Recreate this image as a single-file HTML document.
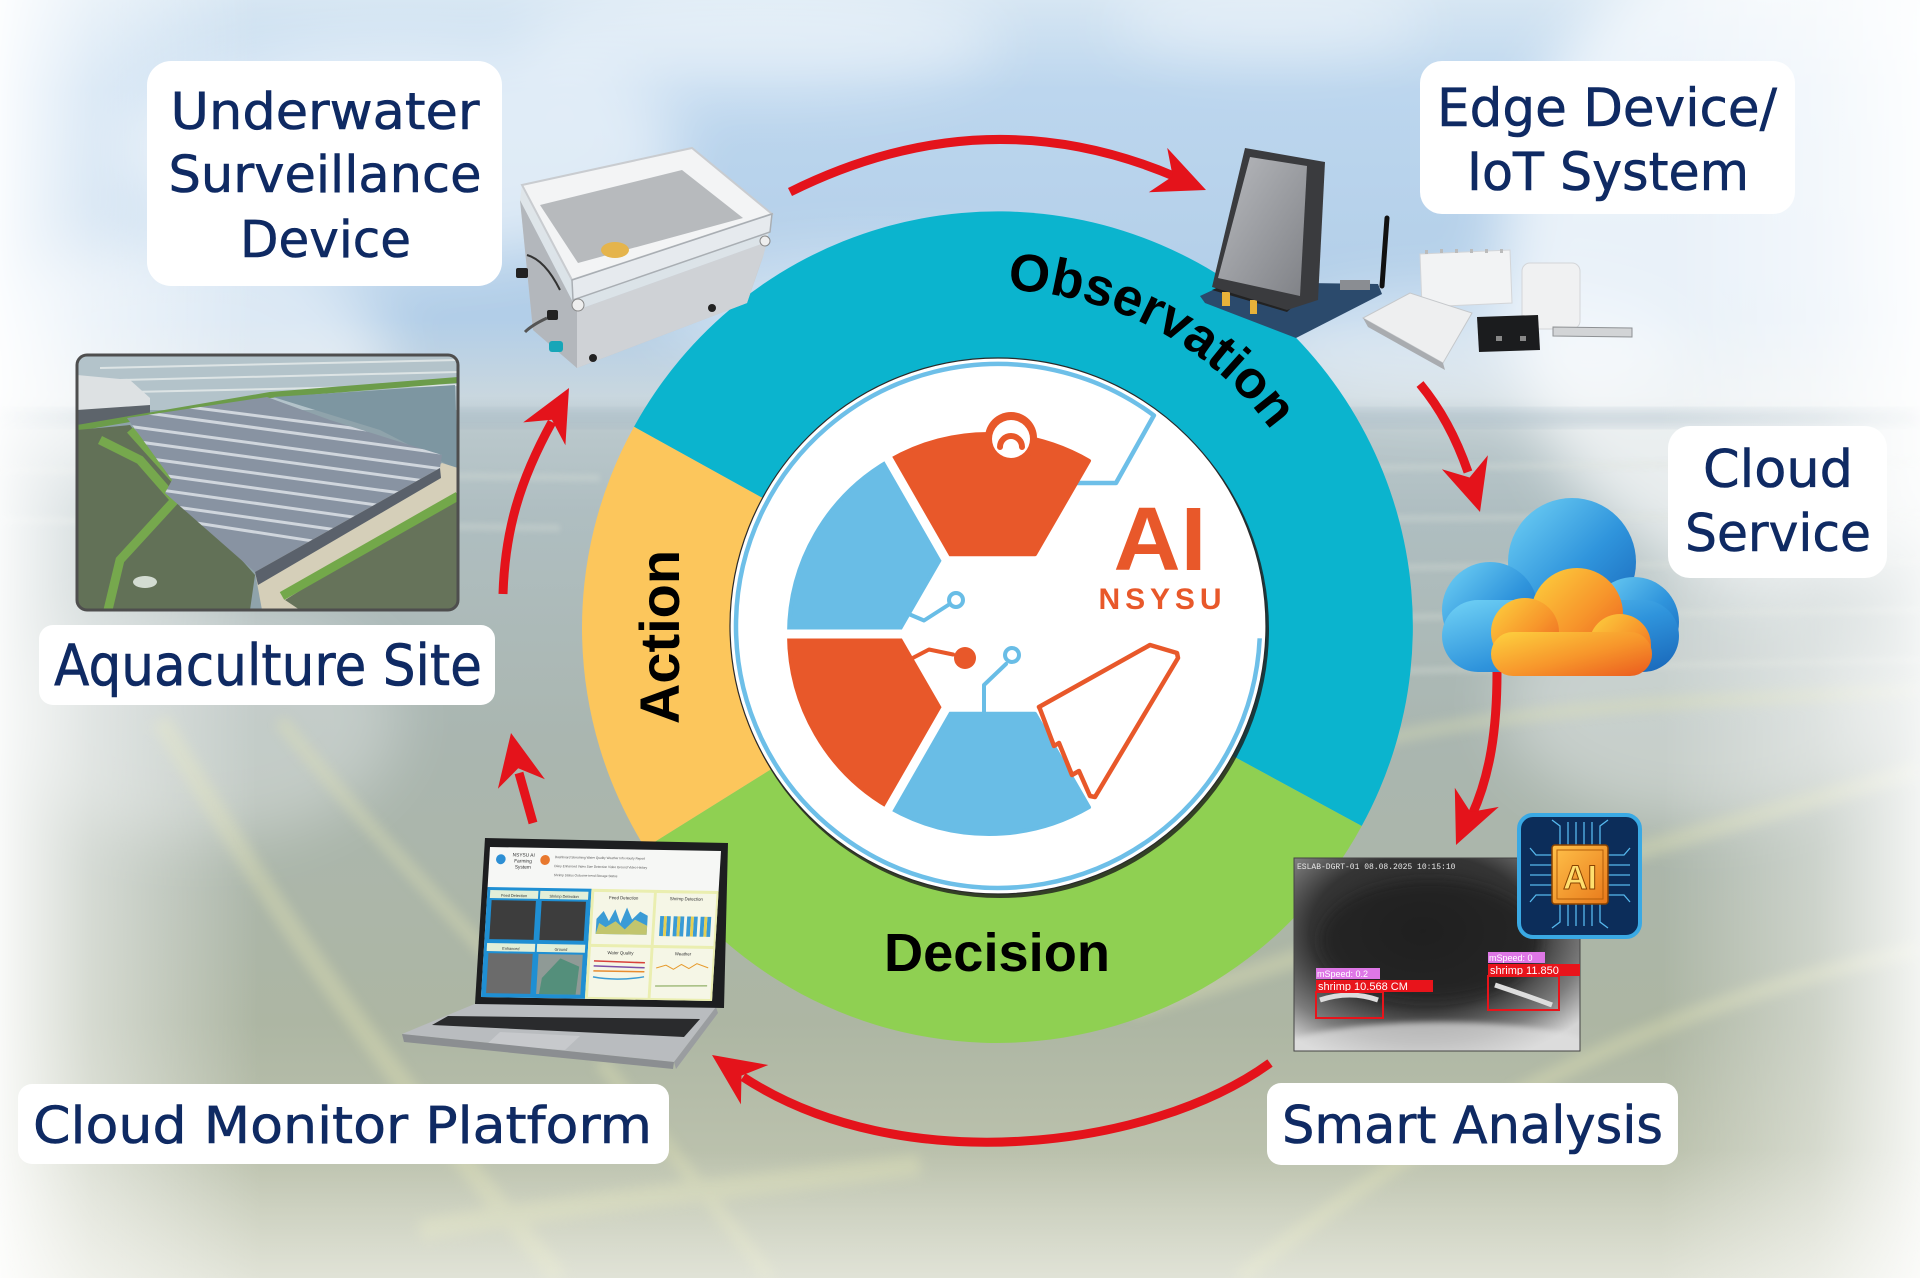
<!DOCTYPE html>
<html><head><meta charset="utf-8">
<style>
html,body{margin:0;padding:0;width:1920px;height:1278px;overflow:hidden;background:#b8c6cc}
svg{display:block}
.lbl{font-family:"DejaVu Sans","Liberation Sans",sans-serif;fill:#0f2a63;stroke:#0f2a63;stroke-width:0.6}
.big{font-family:"Liberation Sans","DejaVu Sans",sans-serif;font-weight:bold;fill:#000}
.tiny{font-family:"Liberation Sans","DejaVu Sans",sans-serif}
</style></head><body>
<svg width="1920" height="1278" viewBox="0 0 1920 1278" xmlns="http://www.w3.org/2000/svg">
<defs>
 <linearGradient id="bg" x1="0" y1="0" x2="0" y2="1">
  <stop offset="0" stop-color="#d6e6f3"/>
  <stop offset="0.07" stop-color="#bcd6ee"/>
  <stop offset="0.25" stop-color="#b2cee8"/>
  <stop offset="0.31" stop-color="#c9d7df"/>
  <stop offset="0.335" stop-color="#bac8cc"/>
  <stop offset="0.4" stop-color="#afbec1"/>
  <stop offset="0.58" stop-color="#aab6b0"/>
  <stop offset="0.8" stop-color="#adb6a3"/>
  <stop offset="1" stop-color="#c8ccb6"/>
 </linearGradient>
 <linearGradient id="fogL" x1="0" y1="0" x2="1" y2="0">
  <stop offset="0" stop-color="#ffffff" stop-opacity="0.92"/>
  <stop offset="0.35" stop-color="#ffffff" stop-opacity="0.5"/>
  <stop offset="1" stop-color="#ffffff" stop-opacity="0"/>
 </linearGradient>
 <linearGradient id="fogR" x1="1" y1="0" x2="0" y2="0">
  <stop offset="0" stop-color="#ffffff" stop-opacity="0.85"/>
  <stop offset="0.4" stop-color="#ffffff" stop-opacity="0.4"/>
  <stop offset="1" stop-color="#ffffff" stop-opacity="0"/>
 </linearGradient>
 <linearGradient id="fogB" x1="0" y1="0" x2="0" y2="1">
  <stop offset="0" stop-color="#ffffff" stop-opacity="0"/>
  <stop offset="1" stop-color="#ffffff" stop-opacity="0.45"/>
 </linearGradient>
 <filter id="b30" x="-50%" y="-50%" width="200%" height="200%"><feGaussianBlur stdDeviation="30"/></filter>
 <filter id="b6" x="-20%" y="-20%" width="140%" height="140%"><feGaussianBlur stdDeviation="6"/></filter>
 <filter id="b3" x="-20%" y="-20%" width="140%" height="140%"><feGaussianBlur stdDeviation="3"/></filter>
 <linearGradient id="cb" x1="0" y1="0" x2="1" y2="1">
  <stop offset="0" stop-color="#72d3f6"/><stop offset="0.55" stop-color="#2f94dc"/><stop offset="1" stop-color="#1865b8"/>
 </linearGradient>
 <linearGradient id="co" x1="0" y1="0" x2="1" y2="1">
  <stop offset="0" stop-color="#fdd23f"/><stop offset="0.55" stop-color="#f7952b"/><stop offset="1" stop-color="#ea5a1e"/>
 </linearGradient>
 <linearGradient id="og" x1="0" y1="0" x2="1" y2="1">
  <stop offset="0" stop-color="#ffc24a"/><stop offset="1" stop-color="#e8781a"/>
 </linearGradient>
 <radialGradient id="cam" cx="0.45" cy="0.38" r="0.72">
  <stop offset="0" stop-color="#262626"/><stop offset="0.55" stop-color="#343434"/>
  <stop offset="0.8" stop-color="#7d7d7d"/><stop offset="1" stop-color="#d5d5d5"/>
 </radialGradient>
 <linearGradient id="scr" x1="0" y1="0" x2="1" y2="1">
  <stop offset="0" stop-color="#b8babe"/><stop offset="1" stop-color="#7f8186"/>
 </linearGradient>
 <linearGradient id="body" x1="0" y1="0" x2="0" y2="1">
  <stop offset="0" stop-color="#d8dbde"/><stop offset="1" stop-color="#b9bcc0"/>
 </linearGradient>
 <clipPath id="photoClip"><rect x="77" y="355" width="381" height="255" rx="10"/></clipPath>
 <clipPath id="roofClip"><polygon points="127,418 267,397 330,420 442,455 440,468 255,572 165,493 172,480"/></clipPath>
 <clipPath id="camClip"><rect x="1294" y="858" width="286" height="193"/></clipPath>
 <path id="obsPath" d="M 1007.6 290.2 A 338 338 0 0 1 1335 628"/>
</defs>

<!-- ================= BACKGROUND ================= -->
<rect width="1920" height="1278" fill="url(#bg)"/>
<g filter="url(#b30)" fill="#ffffff">
 <ellipse cx="400" cy="150" rx="280" ry="110" opacity="0.55"/>
 <ellipse cx="170" cy="360" rx="220" ry="120" opacity="0.55"/>
 <ellipse cx="760" cy="40" rx="240" ry="55" opacity="0.45"/>
 <ellipse cx="1270" cy="20" rx="160" ry="40" opacity="0.4"/>
 <ellipse cx="1780" cy="260" rx="280" ry="330" opacity="0.7"/>
 <ellipse cx="1470" cy="350" rx="220" ry="60" opacity="0.45"/>
 <ellipse cx="880" cy="310" rx="220" ry="60" opacity="0.35"/>
 <ellipse cx="1700" cy="700" rx="200" ry="120" opacity="0.35"/>
 <ellipse cx="200" cy="720" rx="200" ry="120" opacity="0.3"/>
</g>
<!-- horizon land -->
<rect x="0" y="410" width="1920" height="16" fill="#9fb3c1" opacity="0.4" filter="url(#b6)"/>
<!-- pond streaks -->
<g stroke="#dfe4dc" stroke-width="7" opacity="0.3" fill="none" filter="url(#b3)">
 <path d="M 1150 470 L 1920 462"/>
 <path d="M 1150 520 L 1920 515"/>
 <path d="M 1170 570 L 1920 562"/>
 <path d="M 1180 620 L 1920 610"/>
 <path d="M 1200 675 L 1920 660"/>
 <path d="M 0 470 L 600 478"/>
 <path d="M 0 520 L 560 528"/>
</g>
<g stroke="#dfe1b4" fill="none" opacity="0.4" filter="url(#b6)">
 <path d="M 160 720 C 240 850 340 1020 560 1278" stroke-width="20"/>
 <path d="M 280 720 C 360 820 440 900 520 990" stroke-width="14"/>
 <path d="M 420 1230 C 600 1200 760 1185 920 1165" stroke-width="22"/>
 <path d="M 600 1060 C 660 1140 720 1210 770 1278" stroke-width="14"/>
 <path d="M 1130 1010 C 1300 960 1520 880 1920 770" stroke-width="18"/>
 <path d="M 1240 1278 C 1400 1150 1620 1010 1920 950" stroke-width="16"/>
 <path d="M 1380 740 C 1560 700 1760 700 1920 690" stroke-width="12"/>
</g>
<rect x="0" y="0" width="260" height="1278" fill="url(#fogL)"/>
<rect x="1660" y="0" width="260" height="1278" fill="url(#fogR)"/>
<rect x="0" y="1150" width="1920" height="128" fill="url(#fogB)"/>

<!-- ================= BIG RING ================= -->
<path d="M 997 628 L 634.0 426.8 A 415 415 0 0 1 1361.7 826.0 Z" fill="#0bb4ce"/>
<path d="M 997 628 L 1361.7 826.0 A 415 415 0 0 1 645.1 847.9 Z" fill="#8fd052"/>
<path d="M 997 628 L 645.1 847.9 A 415 415 0 0 1 634.0 426.8 Z" fill="#fcc65c"/>

<text class="big" font-size="53"><textPath href="#obsPath">Observation</textPath></text>
<text class="big" font-size="56" text-anchor="middle" transform="translate(679,637) rotate(-90)">Action</text>
<text class="big" font-size="54" text-anchor="middle" x="997" y="971" textLength="226" lengthAdjust="spacingAndGlyphs">Decision</text>

<!-- inner white circle -->
<circle cx="1000" cy="629" r="269" fill="#1c1c1c" opacity="0.8"/>
<circle cx="998" cy="626" r="268" fill="#ffffff" stroke="#2a2a2a" stroke-width="1.2"/>
<path d="M 1259.7 638.3 A 262 262 0 1 1 1153.9 415.4 L 1116 483 L 1077 483" fill="none" stroke="#6dbfe8" stroke-width="4.5" stroke-linejoin="round"/>

<!-- logo segments -->
<path d="M 889 460.8 A 200 200 0 0 1 1089 460.8 L 1035 554.3 L 943 554.3 Z" fill="#e8582a" stroke="#e8582a" stroke-width="4" stroke-linejoin="round"/>
<path d="M 789 634 A 200 200 0 0 1 889 460.8 L 943 554.3 L 897 634 Z" fill="#69bde6" stroke="#69bde6" stroke-width="4" stroke-linejoin="round"/>
<path d="M 889 807.2 A 200 200 0 0 1 789 634 L 897 634 L 943 713.7 Z" fill="#e8582a" stroke="#e8582a" stroke-width="4" stroke-linejoin="round"/>
<path d="M 1089 807.2 A 200 200 0 0 1 889 807.2 L 943 713.7 L 1035 713.7 Z" fill="#69bde6" stroke="#69bde6" stroke-width="4" stroke-linejoin="round"/>
<g stroke="#ffffff" stroke-width="9" stroke-linecap="butt">
 <line x1="949" y1="564.7" x2="878" y2="441"/>
 <line x1="905" y1="634" x2="768" y2="634"/>
 <line x1="949" y1="703.3" x2="878" y2="827"/>
</g>
<!-- bump -->
<circle cx="1011" cy="438" r="26" fill="#e8582a"/>
<circle cx="1011" cy="439" r="19" fill="#ffffff"/>
<path d="M 1000 447 A 11 11 0 0 1 1022 447" fill="none" stroke="#e8582a" stroke-width="6" stroke-linecap="round"/>
<!-- circuits -->
<g fill="none" stroke-linejoin="round" stroke-linecap="round" stroke-width="4">
 <path d="M 904 612 L 924 620.5 L 949 604.5" stroke="#69bde6"/>
 <circle cx="956" cy="600" r="7" stroke="#69bde6" fill="#fff"/>
 <path d="M 905 662 L 929 649.5 L 953 654.5" stroke="#e8582a"/>
 <path d="M 984 714 L 984 685 L 1006 664" stroke="#69bde6"/>
 <circle cx="1012" cy="655" r="7" stroke="#69bde6" fill="#fff"/>
</g>
<circle cx="965" cy="658" r="11" fill="#e8582a"/>
<!-- rocket -->
<polygon points="1039,707 1150,645 1177,653 1178,658 1095,797 1090,796 1079,771 1072,775 1059,743 1054,746 1040,709" fill="none" stroke="#e8582a" stroke-width="4.5" stroke-linejoin="round"/>
<!-- AI NSYSU -->
<text x="1160" y="570" text-anchor="middle" font-family="Liberation Sans, DejaVu Sans, sans-serif" font-weight="bold" font-size="90" fill="#e8582a" textLength="93" lengthAdjust="spacingAndGlyphs">AI</text>
<text x="1160" y="609" text-anchor="middle" font-family="Liberation Sans, DejaVu Sans, sans-serif" font-weight="bold" font-size="30" fill="#e8582a" textLength="123" lengthAdjust="spacing">NSYSU</text>

<!-- ================= ARROWS ================= -->
<g fill="none" stroke="#e4131b" stroke-width="9">
 <path d="M 790 192 Q 985 95 1176 177"/>
 <path d="M 1420 384 Q 1450 420 1468 472"/>
 <path d="M 1497 672 C 1497 730 1490 775 1472 815"/>
 <path d="M 1270 1063 C 1150 1150 900 1180 743 1077"/>
 <path d="M 533 823 L 519 773"/>
 <path d="M 503 594 C 505 530 520 480 552 422"/>
</g>
<g fill="#e4131b">
 <polygon points="1206,190 1167.2,147.9 1172.7,176.2 1148.8,192.3"/>
 <polygon points="1480,512 1441.9,469.2 1469.6,477.5 1487.9,455.2"/>
 <polygon points="1456,845 1454.8,787.7 1470.4,812 1498.8,806.9"/>
 <polygon points="712,1055 768.3,1065 741.5,1075.6 740.9,1104.4"/>
 <polygon points="511,733 544.9,779.2 518.2,768.3 497.9,788.8"/>
 <polygon points="569,388 565.4,445.2 551.9,419.7 523.2,422.4"/>
</g>

<!-- ================= UNDERWATER DEVICE ================= -->
<g>
 <polygon points="520,200 577,310 767,242 763,257 747,303 577,368 533,330" fill="url(#body)"/>
 <polygon points="520,200 577,310 577,368 533,330" fill="#b3b7bc"/>
 <polygon points="577,310 767,242 747,303 577,368" fill="#cfd2d6"/>
 <polygon points="520,200 522,185 692,148 772,214 767,242 577,310" fill="#dfe4e8" opacity="0.9"/>
 <polygon points="522,185 692,148 772,214 572,280" fill="#f3f4f5" stroke="#c9ccd0" stroke-width="2"/>
 <polygon points="540,205 682,170 743,218 578,263" fill="#b7babd"/>
 <ellipse cx="615" cy="250" rx="14" ry="8" fill="#e5b44c"/>
 <polygon points="572,280 772,214 770,232 573,300" fill="#e6eaee" stroke="#a9aeb3" stroke-width="1.5"/>
 <circle cx="578" cy="305" r="6" fill="#eee" stroke="#888"/>
 <circle cx="765" cy="241" r="5" fill="#eee" stroke="#888"/>
 <rect x="516" y="268" width="12" height="10" rx="2" fill="#222"/>
 <rect x="547" y="310" width="11" height="10" rx="2" fill="#222"/>
 <path d="M 547 318 Q 532 325 525 332" stroke="#555" stroke-width="3" fill="none"/>
 <path d="M 527 255 Q 545 260 560 290" stroke="#333" stroke-width="2" fill="none"/>
 <rect x="549" y="341" width="14" height="11" rx="3" fill="#17a6b8"/>
 <circle cx="593" cy="358" r="4" fill="#222"/>
 <circle cx="712" cy="308" r="4" fill="#222"/>
</g>

<!-- ================= EDGE DEVICE ================= -->
<g>
 <polygon points="1200,296 1230,282 1378,284 1382,294 1296,338 1205,303" fill="#2b4a6c"/>
 <polygon points="1212,290 1287,312 1300,300 1230,282" fill="#222"/>
 <rect x="1222" y="292" width="8" height="14" fill="#e8b23a"/>
 <rect x="1250" y="300" width="7" height="14" fill="#e8b23a"/>
 <rect x="1303" y="292" width="10" height="7" fill="#ddd"/>
 <rect x="1340" y="280" width="30" height="10" fill="#8a8d92"/>
 <polygon points="1245,148 1325,162 1318,300 1287,310 1212,287" fill="#3a3b3e"/>
 <polygon points="1250,157 1307,166 1300,296 1218,278" fill="url(#scr)"/>
 <line x1="1382" y1="286" x2="1387" y2="218" stroke="#111" stroke-width="5" stroke-linecap="round"/>
 <polygon points="1420,254 1510,250 1512,303 1422,307" fill="#f2f3f4" stroke="#d3d5d8"/>
 <g fill="#bbb"><rect x="1425" y="250" width="3" height="4"/><rect x="1440" y="249" width="3" height="4"/><rect x="1455" y="249" width="3" height="4"/><rect x="1470" y="249" width="3" height="4"/><rect x="1485" y="249" width="3" height="4"/><rect x="1500" y="249" width="3" height="4"/></g>
 <rect x="1522" y="263" width="58" height="66" rx="8" fill="#f0f1f2" stroke="#d3d5d8"/>
 <polygon points="1363,318 1410,293 1472,313 1443,363" fill="#eeeff0" stroke="#c5c8cb"/>
 <polygon points="1363,318 1443,363 1445,370 1368,327" fill="#a9acb0"/>
 <polygon points="1477,317 1538,315 1540,350 1479,352" fill="#1b1c1e"/>
 <rect x="1496" y="336" width="6" height="5" fill="#888"/><rect x="1520" y="336" width="6" height="5" fill="#888"/>
 <polygon points="1553,327 1632,328 1632,337 1553,336" fill="#d2d4d6" stroke="#8e9194" stroke-width="1"/>
</g>

<!-- ================= CLOUD ICON ================= -->
<g fill="url(#cb)">
 <circle cx="1572" cy="562" r="64"/>
 <circle cx="1490" cy="610" r="48"/>
 <circle cx="1634" cy="622" r="45"/>
 <rect x="1442" y="600" width="237" height="72" rx="36"/>
</g>
<g fill="url(#co)">
 <circle cx="1577" cy="614" r="46"/>
 <circle cx="1525" cy="632" r="34"/>
 <circle cx="1620" cy="645" r="31"/>
 <rect x="1491" y="632" width="161" height="44" rx="22"/>
</g>

<!-- ================= AQUACULTURE PHOTO ================= -->
<g clip-path="url(#photoClip)">
 <rect x="77" y="355" width="381" height="255" fill="#8fa3ab"/>
 <rect x="77" y="355" width="381" height="55" fill="#b3c3ca"/>
 <g stroke="#e2e8e8" stroke-width="2" opacity="0.9"><line x1="100" y1="368" x2="458" y2="360"/><line x1="120" y1="380" x2="458" y2="372"/><line x1="130" y1="392" x2="458" y2="385"/></g>
 <polygon points="77,375 130,380 150,398 150,410 77,415" fill="#dde1e3"/>
 <polygon points="77,410 150,405 150,420 77,425" fill="#5d646b"/>
 <path d="M 77 428 L 270 395 L 458 380" stroke="#6c9c4a" stroke-width="6" fill="none"/>
 <polygon points="273,397 455,385 458,470 380,430" fill="#7d96a1"/>
 <polygon points="77,430 130,425 175,485 255,575 250,610 77,610" fill="#627157"/>
 <path d="M 100 440 L 140 460 L 175 500 L 120 560 L 108 610" stroke="#76a84d" stroke-width="9" fill="none"/>
 <path d="M 130 430 L 175 480" stroke="#76a84d" stroke-width="8" fill="none"/>
 <polygon points="255,572 442,463 458,468 458,500 300,610 262,610" fill="#d5cfb9"/>
 <polygon points="285,600 458,492 458,610 300,610" fill="#66735a"/>
 <path d="M 282 596 L 458 496" stroke="#73a84a" stroke-width="9" fill="none"/>
 <ellipse cx="145" cy="582" rx="12" ry="6" fill="#e8eee8" opacity="0.85"/>
 <polygon points="127,418 267,397 330,420 442,455 440,468 255,572 165,493 172,480" fill="#8893a2"/>
 <g clip-path="url(#roofClip)" stroke="#d0d6dd" stroke-width="3">
  <line x1="120" y1="425" x2="450" y2="470"/>
  <line x1="110" y1="438" x2="440" y2="483"/>
  <line x1="100" y1="452" x2="430" y2="497"/>
  <line x1="95" y1="466" x2="420" y2="511"/>
  <line x1="90" y1="480" x2="410" y2="525"/>
  <line x1="85" y1="494" x2="400" y2="539"/>
  <line x1="140" y1="412" x2="455" y2="455"/>
  <line x1="150" y1="402" x2="460" y2="442"/>
  <line x1="100" y1="508" x2="390" y2="553"/>
 </g>
 <polygon points="255,572 440,468 441,478 258,585" fill="#5a616b"/>
</g>
<rect x="77" y="355" width="381" height="255" rx="10" fill="none" stroke="#4e4e4e" stroke-width="3"/>

<!-- ================= LAPTOP ================= -->
<g>
 <polygon points="477,1003 716,1007 674,1062 402,1034" fill="#b9bcbf"/>
 <polygon points="448,1016 700,1019 684,1037 432,1025" fill="#2a2b2d"/>
 <polygon points="500,1032 580,1036 565,1050 486,1045" fill="#c7c9cc"/>
 <polygon points="402,1034 674,1062 673,1069 404,1042" fill="#8b8e91"/>
 <polygon points="716,1007 718,1013 676,1069 674,1062" fill="#9a9da0"/>
 <polygon points="485,838 728,843 724,1008 475,1004" fill="#1d1e20"/>
 <g transform="matrix(0.9625 0.0167 -0.06 1.0 490 847)">
  <rect x="0" y="0" width="240" height="150" fill="#f6f7f5"/>
  <circle cx="12" cy="12" r="5" fill="#2d8fd4"/>
  <text class="tiny" x="24" y="9" font-size="5" fill="#333">NSYSU AI</text>
  <text class="tiny" x="26" y="15" font-size="5" fill="#333">Farming</text>
  <text class="tiny" x="27" y="21" font-size="5" fill="#333">System</text>
  <circle cx="58" cy="12" r="5" fill="#e8782e"/>
  <text class="tiny" x="68" y="10" font-size="3.3" fill="#555">Dashboard  Streaming  Water Quality  Weather Info  Hourly Report</text>
  <text class="tiny" x="68" y="19" font-size="3.3" fill="#555">Diary  Enhanced Video  Size Detection Video  Ground Video  History</text>
  <text class="tiny" x="68" y="28" font-size="3.3" fill="#555">Shrimp Status  Outcome trend  Storage Status</text>
  <rect x="0" y="40" width="108" height="110" fill="#1f8fd3"/>
  <g fill="#e2efd8"><rect x="3" y="43" width="50" height="8"/><rect x="55" y="43" width="50" height="8"/><rect x="3" y="96" width="50" height="8"/><rect x="55" y="96" width="50" height="8"/></g>
  <g fill="#3d3d3d"><rect x="5" y="53" width="46" height="39"/><rect x="57" y="53" width="46" height="39"/><rect x="5" y="106" width="46" height="40" fill="#6b6b6b"/><rect x="57" y="106" width="46" height="40" fill="#8f9a96"/></g>
  <polygon points="62,130 80,110 100,118 98,146 60,146" fill="#3a8a6f" opacity="0.7"/>
  <text class="tiny" x="28" y="49.5" font-size="4" text-anchor="middle" fill="#333">Feed Detection</text>
  <text class="tiny" x="80" y="49.5" font-size="4" text-anchor="middle" fill="#333">Shrimp Detection</text>
  <text class="tiny" x="28" y="102.5" font-size="4" text-anchor="middle" fill="#333">Enhanced</text>
  <text class="tiny" x="80" y="102.5" font-size="4" text-anchor="middle" fill="#333">Ground</text>
  <rect x="108" y="40" width="132" height="110" fill="#eaeeb0"/>
  <g fill="#f5f6e6"><rect x="111" y="43" width="62" height="52"/><rect x="176" y="43" width="62" height="52"/><rect x="111" y="98" width="62" height="50"/><rect x="176" y="98" width="62" height="50"/></g>
  <text class="tiny" x="142" y="50" font-size="4.5" text-anchor="middle" fill="#333">Feed Detection</text>
  <text class="tiny" x="207" y="50" font-size="4.5" text-anchor="middle" fill="#333">Shrimp Detection</text>
  <text class="tiny" x="142" y="105" font-size="4.5" text-anchor="middle" fill="#333">Water Quality</text>
  <text class="tiny" x="207" y="105" font-size="4.5" text-anchor="middle" fill="#333">Weather</text>
  <polygon points="115,85 115,70 122,62 128,72 134,60 140,74 146,58 152,70 160,62 168,66 168,85" fill="#3a9bd5"/>
  <polygon points="115,85 118,74 125,78 135,72 145,80 155,70 168,76 168,85" fill="#e5cf53" opacity="0.8"/>
  <g fill="#3a9bd5"><rect x="181" y="66" width="4" height="20"/><rect x="188" y="66" width="4" height="20"/><rect x="195" y="66" width="4" height="20"/><rect x="202" y="66" width="4" height="20"/><rect x="209" y="66" width="4" height="20"/><rect x="216" y="66" width="4" height="20"/><rect x="223" y="66" width="4" height="20"/><rect x="230" y="66" width="4" height="20"/></g>
  <g fill="#e5cf53"><rect x="185" y="66" width="3" height="20"/><rect x="199" y="66" width="3" height="20"/><rect x="213" y="66" width="3" height="20"/><rect x="227" y="66" width="3" height="20"/></g>
  <g fill="none" stroke-width="1.5"><path d="M 115 112 L 168 113" stroke="#d8413a"/><path d="M 115 117 L 168 118" stroke="#7b4fa8"/><path d="M 115 122 L 168 122" stroke="#e88b2f"/><path d="M 115 128 Q 140 132 168 127" stroke="#3a9bd5"/></g>
  <path d="M 180 118 L 190 115 L 198 119 L 206 114 L 214 118 L 222 113 L 234 117" stroke="#e69a2b" fill="none" stroke-width="1"/>
  <path d="M 180 136 L 234 135" stroke="#7aa04a" fill="none" stroke-width="1"/>
 </g>
</g>

<!-- ================= SMART ANALYSIS IMAGE ================= -->
<g clip-path="url(#camClip)">
 <rect x="1294" y="858" width="286" height="193" fill="url(#cam)"/>
 <ellipse cx="1440" cy="1062" rx="180" ry="40" fill="#e0e0e0" opacity="0.7" filter="url(#b3)"/>
 <ellipse cx="1430" cy="940" rx="110" ry="60" fill="#1c1c1c" opacity="0.6" filter="url(#b6)"/>
 <path d="M 1320 1000 Q 1350 990 1378 1000" stroke="#ddd" stroke-width="5" fill="none"/>
 <path d="M 1495 985 Q 1525 995 1552 1005" stroke="#ddd" stroke-width="5" fill="none"/>
</g>
<rect x="1294" y="858" width="286" height="193" fill="none" stroke="#444" stroke-width="1"/>
<text x="1297" y="869" font-family="Liberation Mono, DejaVu Sans Mono, monospace" font-size="8" fill="#e6e6e6">ESLAB-DGRT-01 08.08.2025 10:15:10</text>
<rect x="1316" y="968" width="64" height="11" fill="#de77e6"/>
<text x="1317" y="977" font-family="Liberation Sans, sans-serif" font-size="9" fill="#fff">mSpeed: 0.2</text>
<rect x="1316" y="980" width="117" height="12" fill="#e8141b"/>
<text x="1318" y="990" font-family="Liberation Sans, sans-serif" font-size="11" fill="#fff">shrimp 10.568 CM</text>
<rect x="1316" y="992" width="67" height="26" fill="none" stroke="#e8141b" stroke-width="2"/>
<rect x="1488" y="952" width="57" height="11" fill="#de77e6"/>
<text x="1489" y="961" font-family="Liberation Sans, sans-serif" font-size="9" fill="#fff">mSpeed: 0</text>
<rect x="1488" y="964" width="92" height="12" fill="#e8141b"/>
<text x="1490" y="974" font-family="Liberation Sans, sans-serif" font-size="11" fill="#fff">shrimp 11.850</text>
<rect x="1488" y="976" width="71" height="34" fill="none" stroke="#e8141b" stroke-width="2"/>

<!-- AI chip -->
<rect x="1519" y="815" width="121" height="122" rx="14" fill="#0c2d5a" stroke="#3aa9e4" stroke-width="4"/>
<g stroke="#56b8ee" stroke-width="1.3" fill="none">
 <path d="M 1560 845 L 1560 826 L 1552 820"/><path d="M 1568 845 L 1568 822"/><path d="M 1576 845 L 1576 822"/><path d="M 1584 845 L 1584 822"/><path d="M 1592 845 L 1592 822"/><path d="M 1600 845 L 1600 826 L 1608 820"/>
 <path d="M 1560 904 L 1560 922 L 1552 928"/><path d="M 1568 904 L 1568 926"/><path d="M 1576 904 L 1576 926"/><path d="M 1584 904 L 1584 926"/><path d="M 1592 904 L 1592 926"/><path d="M 1600 904 L 1600 922 L 1608 928"/>
 <path d="M 1552 855 L 1536 855 L 1530 848"/><path d="M 1552 865 L 1530 865"/><path d="M 1552 875 L 1530 875"/><path d="M 1552 885 L 1530 885"/><path d="M 1552 895 L 1536 895 L 1530 902"/>
 <path d="M 1608 855 L 1624 855 L 1630 848"/><path d="M 1608 865 L 1630 865"/><path d="M 1608 875 L 1630 875"/><path d="M 1608 885 L 1630 885"/><path d="M 1608 895 L 1624 895 L 1630 902"/>
</g>
<rect x="1552" y="845" width="56" height="59" rx="3" fill="url(#og)" stroke="#8a4300" stroke-width="1.5"/>
<rect x="1557" y="850" width="46" height="49" fill="none" stroke="#b35e0a" stroke-width="1"/>
<text x="1580" y="889" text-anchor="middle" font-family="Liberation Sans, sans-serif" font-weight="bold" font-size="34" fill="#ffdf6e" stroke="#8a4300" stroke-width="1">AI</text>

<!-- ================= LABEL BOXES ================= -->
<g fill="#ffffff">
 <rect x="147" y="61" width="355" height="225" rx="24"/>
 <rect x="1420" y="61" width="375" height="153" rx="22"/>
 <rect x="1668" y="426" width="219" height="152" rx="22"/>
 <rect x="39" y="625" width="456" height="80" rx="14"/>
 <rect x="18" y="1084" width="651" height="80" rx="14"/>
 <rect x="1267" y="1083" width="411" height="82" rx="14"/>
</g>
<g class="lbl" text-anchor="middle">
 <text x="325" y="129" font-size="51" textLength="309" lengthAdjust="spacingAndGlyphs">Underwater</text>
 <text x="325" y="192" font-size="51" textLength="313" lengthAdjust="spacingAndGlyphs">Surveillance</text>
 <text x="325.5" y="257" font-size="51" textLength="171" lengthAdjust="spacingAndGlyphs">Device</text>
 <text x="1607" y="126" font-size="53" textLength="340" lengthAdjust="spacingAndGlyphs">Edge Device/</text>
 <text x="1608" y="190" font-size="53" textLength="282" lengthAdjust="spacingAndGlyphs">IoT System</text>
 <text x="1778" y="487" font-size="52" textLength="150" lengthAdjust="spacingAndGlyphs">Cloud</text>
 <text x="1778" y="551" font-size="52" textLength="186" lengthAdjust="spacingAndGlyphs">Service</text>
 <text x="268" y="685" font-size="57" textLength="428" lengthAdjust="spacingAndGlyphs">Aquaculture Site</text>
 <text x="342.5" y="1143" font-size="51" textLength="619" lengthAdjust="spacingAndGlyphs">Cloud Monitor Platform</text>
 <text x="1472.5" y="1143" font-size="52" textLength="381" lengthAdjust="spacingAndGlyphs">Smart Analysis</text>
</g>
</svg>
</body></html>
